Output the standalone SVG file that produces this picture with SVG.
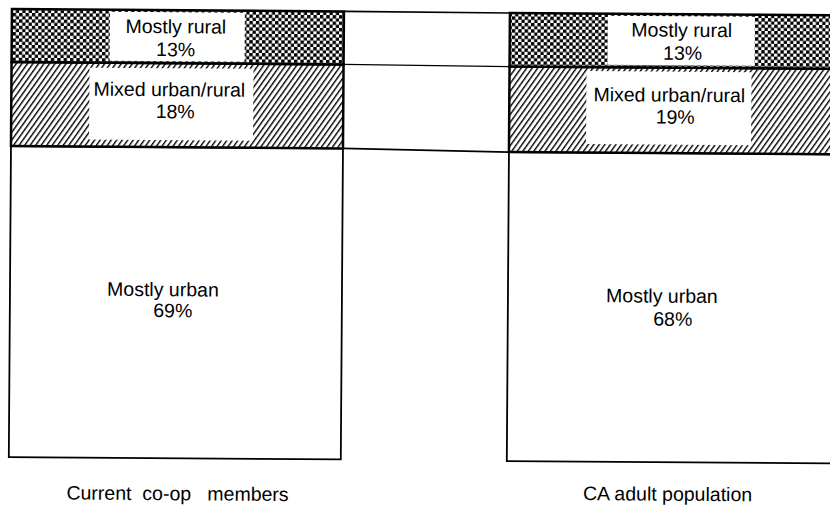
<svg xmlns="http://www.w3.org/2000/svg" width="830" height="513" viewBox="0 0 830 513">
<style>
  .lbl { font-family: "Liberation Sans", Arial, sans-serif; font-size: 19.5px; fill: #000; text-anchor: middle; }
  .band { stroke: #000; stroke-width: 2.5; }
  .urban { fill: #fff; stroke: #000; stroke-width: 1.8; }
  .box { fill: #fff; stroke: none; }
  .conn { stroke: #000; fill: none; }
</style>
<defs>
  <pattern id="checker" patternUnits="userSpaceOnUse" width="6.4" height="6.4">
    <rect width="6.4" height="6.4" fill="#fff"/>
    <rect x="0" y="0" width="3.4" height="3.4" fill="#000"/>
    <rect x="3.2" y="3.2" width="3.4" height="3.4" fill="#000"/>
  </pattern>
  <pattern id="hatch" patternUnits="userSpaceOnUse" width="4.5" height="10" patternTransform="rotate(35)">
    <rect width="4.5" height="10" fill="#fff"/>
    <line x1="0.7" y1="0" x2="0.7" y2="10" stroke="#000" stroke-width="1.4"/>
  </pattern>
</defs>
<rect width="830" height="513" fill="#fff"/>
<g transform="rotate(0.4)">
  <g id="connectors">
    <line class="conn" x1="344" y1="9" x2="510" y2="9.5" stroke-width="1.6"/>
    <line class="conn" x1="344" y1="62" x2="510" y2="63" stroke-width="1.3"/>
    <line class="conn" x1="344" y1="146" x2="510" y2="148.5" stroke-width="1.8"/>
  </g>

  <g id="left-urban">
    <rect class="urban" x="12" y="146" width="332" height="311"/>
    <text class="lbl" x="165" y="295">Mostly urban</text>
    <text class="lbl" x="175" y="316">69%</text>
  </g>
  <g id="left-mixed">
    <rect class="band" x="12" y="62" width="332" height="84" fill="url(#hatch)"/>
    <rect class="box" x="90" y="67" width="164" height="72"/>
    <text class="lbl" x="170" y="95">Mixed urban/rural</text>
    <text class="lbl" x="176" y="117">18%</text>
  </g>
  <g id="left-rural">
    <rect class="band" x="12" y="9" width="332" height="53" fill="url(#checker)"/>
    <rect class="box" x="110" y="11" width="135" height="49"/>
    <text class="lbl" x="176" y="32">Mostly rural</text>
    <text class="lbl" x="176" y="55">13%</text>
  </g>

  <g id="right-urban">
    <rect class="urban" x="510" y="148.5" width="330" height="309"/>
    <text class="lbl" x="664" y="298">Mostly urban</text>
    <text class="lbl" x="675" y="321">68%</text>
  </g>
  <g id="right-mixed">
    <rect class="band" x="510" y="63" width="330" height="85.5" fill="url(#hatch)"/>
    <rect class="box" x="587" y="67" width="165" height="73"/>
    <text class="lbl" x="670" y="97">Mixed urban/rural</text>
    <text class="lbl" x="676" y="119">19%</text>
  </g>
  <g id="right-rural">
    <rect class="band" x="510" y="9.5" width="330" height="53.5" fill="url(#checker)"/>
    <rect class="box" x="608" y="11.5" width="147" height="49"/>
    <text class="lbl" x="682" y="32">Mostly rural</text>
    <text class="lbl" x="683" y="55">13%</text>
  </g>

  <g id="axis-labels">
    <text class="lbl" x="181" y="499" xml:space="preserve">Current  co-op   members</text>
    <text class="lbl" x="671" y="496">CA adult population</text>
  </g>
</g>
</svg>
